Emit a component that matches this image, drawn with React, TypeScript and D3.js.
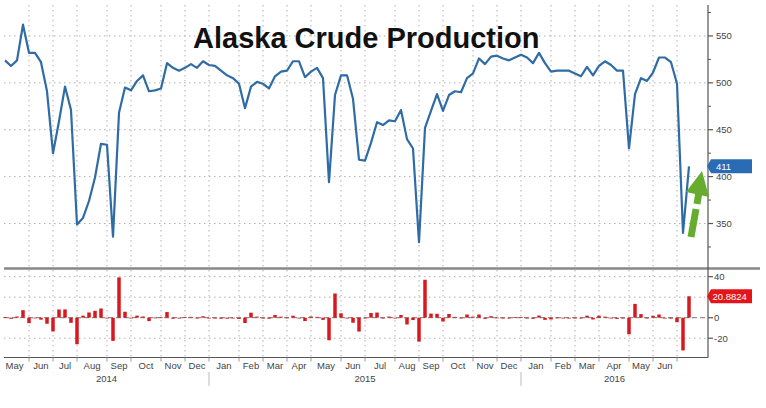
import React from "react";
import * as d3 from "d3";

const START_DATE = "2014-05-09";
const TITLE = "Alaska Crude Production";

// weekly Alaska crude production (kb/d)
const production = [
  524, 518, 524, 562, 532, 532, 522, 491, 425, 459,
  496, 471, 349, 356, 374, 399, 435, 434, 336, 468,
  495, 492, 502, 508, 491, 492, 494, 521, 516, 513,
  516, 520, 516, 523, 519, 518, 513, 508, 505, 499,
  473, 496, 501, 499, 494, 507, 512, 513, 523, 523,
  506, 512, 516, 505, 394, 487, 508, 508, 483, 418,
  417, 436, 458, 455, 460, 459, 471, 440, 430, 330,
  452, 470, 488, 470, 487, 491, 490, 505, 510, 526,
  520, 528, 529, 526, 524, 527, 530, 527, 521, 532,
  521, 512, 513, 513, 513, 510, 507, 517, 508, 518,
  523, 519, 513, 513, 430, 488, 505, 502, 511, 527,
  527, 522, 499, 340, 411,
];

// weekly % change
const pctChange = [
  0.5, -1.1, 1.2, 7.3, -5.3, 0.1, -1.9, -5.9, -13.4, 8.0,
  8.1, -5.0, -25.9, 2.0, 5.1, 6.7, 9.0, -0.2, -22.6, 39.3,
  5.8, -0.6, 2.0, 1.2, -3.3, 0.2, 0.4, 5.5, -1.0, -0.6,
  0.6, 0.8, -0.8, 1.4, -0.8, -0.2, -1.0, -1.0, -0.6, -1.2,
  -5.2, 4.9, 1.0, -0.4, -1.0, 2.6, 1.0, 0.2, 1.9, 0.0,
  -3.3, 1.2, 0.8, -2.1, -22.0, 23.6, 4.3, 0.0, -4.9, -13.5,
  -0.2, 4.6, 5.0, -0.7, 1.1, -0.2, 2.6, -6.6, -2.3, -23.3,
  37.0, 4.0, 3.8, -3.7, 3.6, 0.8, -0.2, 3.1, 1.0, 3.1,
  -1.1, 1.5, 0.2, -0.6, -0.4, 0.6, 0.6, -0.6, -1.1, 2.1,
  -2.1, -1.7, 0.2, 0.0, 0.0, -0.6, -0.6, 2.0, -1.7, 2.0,
  1.0, -0.8, -1.2, 0.0, -16.2, 13.5, 3.5, -0.6, 1.8, 3.1,
  0.0, -0.9, -4.4, -31.9, 20.8824,
];

const mainTicks = [550, 500, 450, 400, 350];
const mainMinorTicks = [575, 525, 475, 425, 375, 325];
const barTicks = [40, 20, 0, -20];
const barTickLabels = [40, 0, -20];
const lastProductionLabel = "411";
const lastChangeLabel = "20.8824";

const FONT = "'Liberation Sans', Arial, sans-serif";

export default function App() {
  const start = d3.timeParse("%Y-%m-%d")(START_DATE) as Date;
  const dates = production.map((_, i) => d3.timeDay.offset(start, 7 * i));

  const plotLeft = 4;
  const plotRight = 708;
  const x = d3.scaleLinear().domain([0, production.length - 1]).range([5, 689]);
  const y = d3.scaleLinear().domain([300, 583]).range([270.4, 5]);
  const yb = d3.scaleLinear().domain([-38.8, 46.5]).range([357.5, 270]);

  const linePath = d3
    .line<number>()
    .x((_, i) => x(i))
    .y((d) => y(d))(production) as string;

  const monthStarts = dates
    .map((d, i) => (i > 0 && d.getMonth() !== dates[i - 1].getMonth() ? i : -1))
    .filter((i) => i >= 0);
  const monthTickX = monthStarts.map((i) => x(i));
  const fmtMonth = d3.timeFormat("%b");
  const segStarts = [0, ...monthStarts];
  const monthLabels = segStarts.map((si, k) => {
    const x0 = k === 0 ? 0 : x(si);
    const x1 = k + 1 < segStarts.length ? x(segStarts[k + 1]) : x(production.length - 1);
    return { label: fmtMonth(dates[si]), cx: (x0 + x1) / 2, w: x1 - x0 };
  });

  const yearStarts = dates
    .map((d, i) => (i > 0 && d.getFullYear() !== dates[i - 1].getFullYear() ? i : -1))
    .filter((i) => i >= 0);
  const yearSegs = [0, ...yearStarts].map((si, k, arr) => {
    const x0 = k === 0 ? plotLeft : x(si);
    const x1 = k + 1 < arr.length ? x(arr[k + 1]) : plotRight;
    return { label: String(dates[si].getFullYear()), cx: (x0 + x1) / 2 };
  });

  const gridColor = "#b0b0b0";
  const axisColor = "#555";
  const textColor = "#444";
  const lastI = production.length - 1;
  const cy1 = y(production[lastI]);
  const cy2 = yb(pctChange[lastI]);
  const badge = (cy: number) =>
    `M707,${cy} L711,${cy - 7} L752,${cy - 7} L752,${cy + 7} L711,${cy + 7} Z`;

  return (
    <svg
      width={766}
      height={408}
      style={{ position: "absolute", left: 0, top: 0, background: "#fff" }}
      fontFamily={FONT}
    >
      <rect x={0} y={0} width={766} height={408} fill="#fff" />
      {monthTickX.map((tx, k) => (
        <line key={"vg" + k} x1={tx} x2={tx} y1={5} y2={357.5} stroke={gridColor} strokeWidth={1} strokeDasharray="1.5,3.5" />
      ))}
      {mainTicks.map((t) => (
        <line key={"hg" + t} x1={plotLeft} x2={plotRight} y1={y(t)} y2={y(t)} stroke={gridColor} strokeWidth={1} strokeDasharray="1.5,3.5" />
      ))}
      {barTicks.filter((t) => t !== 0).map((t) => (
        <line key={"bg" + t} x1={plotLeft} x2={plotRight} y1={yb(t)} y2={yb(t)} stroke={gridColor} strokeWidth={1} strokeDasharray="1.5,3.5" />
      ))}
      <line x1={plotLeft} x2={plotRight} y1={yb(0)} y2={yb(0)} stroke="#777" strokeWidth={1} strokeDasharray="5,3" />

      <text x={193} y={48} fontSize={29} fontWeight="bold" fill="#111">
        {TITLE}
      </text>

      <path d={linePath} fill="none" stroke="#2f6ca6" strokeWidth={2.2} strokeLinejoin="round" />

      {pctChange.map((v, i) => (
        <rect
          key={"b" + i}
          x={x(i) - 1.75}
          width={3.5}
          y={Math.min(yb(v), yb(0))}
          height={Math.max(0.8, Math.abs(yb(v) - yb(0)))}
          fill="#d9181e"
        />
      ))}

      <line x1={plotLeft} x2={760} y1={268.5} y2={268.5} stroke="#888" strokeWidth={2.5} />
      <line x1={plotLeft} x2={plotRight} y1={357.5} y2={357.5} stroke={axisColor} strokeWidth={1.2} />
      <line x1={plotRight} x2={plotRight} y1={5} y2={357.5} stroke={axisColor} strokeWidth={1.2} />
      {mainTicks.map((t) => (
        <g key={"mt" + t}>
          <line x1={plotRight} x2={plotRight + 5} y1={y(t)} y2={y(t)} stroke={axisColor} strokeWidth={1.2} />
          <text x={716} y={y(t) + 3.5} fontSize={9.5} fill={textColor}>{t}</text>
        </g>
      ))}
      {mainMinorTicks.map((t) => (
        <line key={"mm" + t} x1={plotRight} x2={plotRight + 3} y1={y(t)} y2={y(t)} stroke={axisColor} strokeWidth={1} />
      ))}
      {barTicks.map((t) => (
        <line key={"bt" + t} x1={plotRight} x2={plotRight + 5} y1={yb(t)} y2={yb(t)} stroke={axisColor} strokeWidth={1.2} />
      ))}
      {barTickLabels.map((t) => (
        <text key={"btl" + t} x={714} y={yb(t) + 3.5} fontSize={9.5} fill={textColor}>{t}</text>
      ))}

      {monthTickX.map((tx, k) => (
        <line key={"mtk" + k} x1={tx} x2={tx} y1={357.5} y2={361.5} stroke="#999" strokeWidth={1} />
      ))}
      {monthLabels.filter((m) => m.w >= 18).map((m, k) => (
        <text key={"ml" + k} x={m.cx} y={369} fontSize={9.5} fill={textColor} textAnchor="middle">{m.label}</text>
      ))}
      {yearStarts.map((i) => (
        <line key={"ys" + i} x1={x(i)} x2={x(i)} y1={372} y2={386} stroke="#bbb" strokeWidth={1} />
      ))}
      {yearSegs.map((s) => (
        <text key={"yl" + s.label} x={s.cx} y={381.5} fontSize={9.5} fill={textColor} textAnchor="middle">{s.label}</text>
      ))}

      <path d={badge(cy1)} fill="#2a6cb3" />
      <text x={716} y={cy1 + 3.5} fontSize={9.5} fill="#fff">{lastProductionLabel}</text>
      <path d={badge(cy2)} fill="#e3151b" />
      <text x={712.5} y={cy2 + 3.5} fontSize={9.5} fill="#fff">{lastChangeLabel}</text>

      <g fill="#66ad2f" stroke="none">
        <line x1={691} y1={237} x2={696} y2={209} stroke="#66ad2f" strokeWidth={7} />
        <line x1={697} y1={204} x2={699} y2={192} stroke="#66ad2f" strokeWidth={7} />
        <polygon points="702,171 686,192 709,197" />
      </g>
    </svg>
  );
}
